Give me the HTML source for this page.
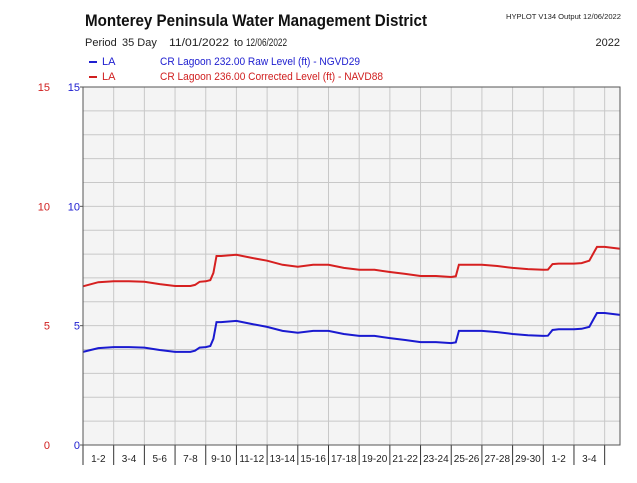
<!DOCTYPE html>
<html><head><meta charset="utf-8"><style>
body{margin:0;background:#fff;font-family:"Liberation Sans",Arial,sans-serif;}
svg text{font-family:"Liberation Sans",Arial,sans-serif;}
</style></head><body>
<svg id="chart" width="637" height="478" xmlns="http://www.w3.org/2000/svg">
<rect width="637" height="478" fill="#fff"/>
<text x="85" y="26" font-size="17" font-weight="bold" fill="#111" textLength="342" lengthAdjust="spacingAndGlyphs">Monterey Peninsula Water Management District</text>
<text x="621" y="19" font-size="7.5" text-anchor="end" fill="#222" textLength="115" lengthAdjust="spacingAndGlyphs">HYPLOT V134  Output 12/06/2022</text>
<g font-size="11" fill="#222">
<text x="85" y="46">Period</text>
<text x="122" y="46">35 Day</text>
<text x="169" y="46" textLength="60" lengthAdjust="spacingAndGlyphs">11/01/2022</text>
<text x="234" y="46">to</text>
<text x="246" y="46" textLength="41" lengthAdjust="spacingAndGlyphs">12/06/2022</text>
</g>
<text x="620" y="46" font-size="11" text-anchor="end" fill="#222">2022</text>
<g>
<rect x="89" y="61" width="8" height="2" fill="#2020d0"/>
<text x="102" y="65" font-size="11" fill="#2020d0">LA</text>
<text x="160" y="65" font-size="11" fill="#2020d0" textLength="200" lengthAdjust="spacingAndGlyphs">CR Lagoon  232.00 Raw Level (ft) - NGVD29</text>
</g>
<g>
<rect x="89" y="76" width="8" height="2" fill="#d02020"/>
<text x="102" y="80" font-size="11" fill="#d02020">LA</text>
<text x="160" y="80" font-size="11" fill="#d02020" textLength="223" lengthAdjust="spacingAndGlyphs">CR Lagoon  236.00 Corrected Level (ft) - NAVD88</text>
</g>
<rect x="83" y="87" width="537" height="358" fill="#f4f4f4"/>
<g id="grid"></g>
<g id="axes"></g>
<g id="series"></g>
<rect x="83" y="87" width="537" height="358" fill="none" stroke="#555" stroke-width="1"/>
</svg>
<script>
const xLabels=["1-2","3-4","5-6","7-8","9-10","11-12","13-14","15-16","17-18","19-20","21-22","23-24","25-26","27-28","29-30","1-2","3-4",""];
const yTicks=[0,5,10,15];
const days=[0,1,2,3,4,5,6,7,7.3,7.6,8,8.3,8.5,8.7,9,10,11,12,13,14,15,16,17,18,19,20,21,22,23,24,24.3,24.5,25,26,27,28,29,30,30.3,30.6,31,32,32.5,33,33.3,33.5,34,35];
const rawLevel=[3.9,4.06,4.1,4.1,4.08,3.98,3.9,3.9,3.95,4.08,4.1,4.15,4.45,5.15,5.15,5.2,5.07,4.95,4.78,4.7,4.78,4.78,4.65,4.57,4.57,4.48,4.4,4.31,4.31,4.27,4.3,4.78,4.78,4.78,4.73,4.65,4.6,4.57,4.58,4.82,4.85,4.85,4.87,4.95,5.3,5.53,5.53,5.45];
const corrLevel=[6.65,6.82,6.86,6.86,6.84,6.74,6.66,6.66,6.71,6.84,6.86,6.91,7.21,7.92,7.92,7.97,7.84,7.72,7.55,7.47,7.55,7.55,7.42,7.34,7.34,7.25,7.17,7.08,7.08,7.04,7.07,7.55,7.55,7.55,7.5,7.42,7.37,7.34,7.35,7.58,7.6,7.6,7.62,7.72,8.07,8.3,8.3,8.22];
const X0=83,X1=620,Y0=445,Y1=87,DAYS=35;
const xs=d=>X0+d*(X1-X0)/DAYS;
const ys=v=>Y0-v*(Y0-Y1)/15;
const NS="http://www.w3.org/2000/svg";
function mk(tag,attrs,parent){const e=document.createElementNS(NS,tag);for(const k in attrs)e.setAttribute(k,attrs[k]);parent.appendChild(e);return e;}
const grid=document.getElementById('grid'),axes=document.getElementById('axes'),series=document.getElementById('series');
for(let v=1;v<15;v++){const l=mk('line',{x1:X0,x2:X1,y1:ys(v),y2:ys(v),stroke:'#c8c8c8','stroke-width':1},grid);

}
for(let i=0;i<xLabels.length;i++){const d=i*2;
if(d>0&&d<DAYS){const g=mk('line',{x1:xs(d),x2:xs(d),y1:Y1,y2:Y0,stroke:'#c8c8c8','stroke-width':1},grid);

}
if(d>0&&d<DAYS){const t=mk('line',{x1:xs(d),x2:xs(d),y1:Y0,y2:Y0+20,stroke:'#333','stroke-width':1},axes);

}
const tx=mk('text',{x:(xs(d)+xs(Math.min(d+2,DAYS)))/2,y:Y0+17,'font-size':10,'text-anchor':'middle',fill:'#222'},axes);
tx.textContent=xLabels[i];

}
mk('line',{x1:X0,x2:X0,y1:Y0,y2:Y0+20,stroke:'#333'},axes);
yTicks.forEach(v=>{
const a=mk('text',{x:50,y:ys(v)+4,'font-size':11,'text-anchor':'end',fill:'#d02020'},axes);a.textContent=v;


const b=mk('text',{x:80,y:ys(v)+4,'font-size':11,'text-anchor':'end',fill:'#2020d0'},axes);b.textContent=v;


mk('line',{x1:X0-3,x2:X0,y1:ys(v),y2:ys(v),stroke:'#555'},axes);});
function path(vals,color,name){const d=days.map((t,i)=>(i?'L':'M')+xs(t).toFixed(1)+','+ys(vals[i]).toFixed(1)).join('');
const p=mk('path',{d:d,fill:'none',stroke:color,'stroke-width':2},series);

}
path(corrLevel,'#d62020','corrected-level-line');
path(rawLevel,'#1a1ad0','raw-level-line');
</script>
</body></html>
